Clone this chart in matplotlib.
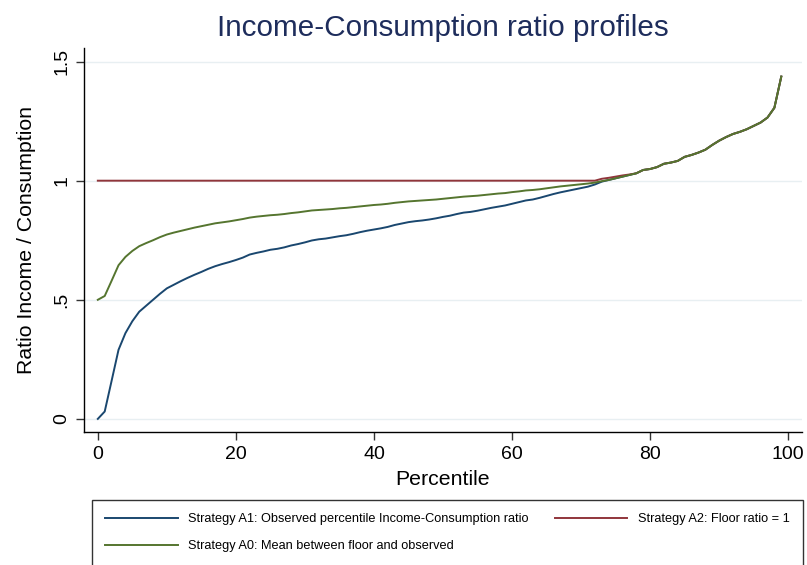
import matplotlib
matplotlib.use("Agg")
import matplotlib.pyplot as plt

plt.rcParams['font.family'] = ['Liberation Sans', 'DejaVu Sans']

# percentiles 0..99
percentile = list(range(100))

# Strategy A1: observed percentile income-consumption ratio
ratio_a1 = [0.000, 0.031, 0.160, 0.290, 0.360, 0.410, 0.450, 0.475, 0.500, 0.525,
            0.548, 0.563, 0.578, 0.592, 0.605, 0.617, 0.630, 0.641, 0.650, 0.658,
            0.667, 0.677, 0.690, 0.697, 0.703, 0.710, 0.714, 0.720, 0.728, 0.734,
            0.741, 0.749, 0.754, 0.757, 0.762, 0.767, 0.771, 0.777, 0.784, 0.790,
            0.795, 0.800, 0.806, 0.814, 0.820, 0.826, 0.830, 0.833, 0.837, 0.842,
            0.848, 0.853, 0.860, 0.866, 0.869, 0.874, 0.880, 0.886, 0.891, 0.896,
            0.903, 0.910, 0.917, 0.921, 0.928, 0.936, 0.944, 0.951, 0.957, 0.963,
            0.969, 0.975, 0.984, 0.996, 1.003, 1.010, 1.017, 1.024, 1.031, 1.045,
            1.049, 1.057, 1.071, 1.076, 1.083, 1.100, 1.108, 1.118, 1.130, 1.150,
            1.168, 1.183, 1.196, 1.205, 1.216, 1.230, 1.244, 1.265, 1.306, 1.437]

# Strategy A2: floor ratio = 1
ratio_a2 = [1.000] * 73 + [
            1.008, 1.012, 1.017, 1.022, 1.026, 1.031, 1.045,
            1.049, 1.057, 1.071, 1.076, 1.083, 1.100, 1.108, 1.118, 1.130, 1.150,
            1.168, 1.183, 1.196, 1.205, 1.216, 1.230, 1.244, 1.265, 1.306, 1.437]

# Strategy A0: mean between floor and observed
ratio_a0 = [0.500, 0.516, 0.580, 0.645, 0.680, 0.705, 0.725, 0.738, 0.750, 0.763,
            0.774, 0.782, 0.789, 0.796, 0.803, 0.809, 0.815, 0.821, 0.825, 0.829,
            0.834, 0.839, 0.845, 0.849, 0.852, 0.855, 0.857, 0.860, 0.864, 0.867,
            0.871, 0.875, 0.877, 0.879, 0.881, 0.884, 0.886, 0.889, 0.892, 0.895,
            0.898, 0.900, 0.903, 0.907, 0.910, 0.913, 0.915, 0.917, 0.919, 0.921,
            0.924, 0.927, 0.930, 0.933, 0.935, 0.937, 0.940, 0.943, 0.946, 0.948,
            0.952, 0.955, 0.959, 0.961, 0.964, 0.968, 0.972, 0.976, 0.979, 0.982,
            0.985, 0.988, 0.992, 0.998, 1.003, 1.010, 1.017, 1.024, 1.031, 1.045,
            1.049, 1.057, 1.071, 1.076, 1.083, 1.100, 1.108, 1.118, 1.130, 1.150,
            1.168, 1.183, 1.196, 1.205, 1.216, 1.230, 1.244, 1.265, 1.306, 1.437]

yticks = [0, 0.5, 1, 1.5]
ytick_labels = ['0', '.5', '1', '1.5']
xticks = [0, 20, 40, 60, 80, 100]

fig = plt.figure(figsize=(8.07, 5.65), dpi=100)
ax = fig.add_axes([84 / 807, 1 - 432 / 565, (802 - 84) / 807, (432 - 48) / 565])

l1, = ax.plot(percentile, ratio_a1, color='#1a476f', lw=1.4)
l2, = ax.plot(percentile, ratio_a2, color='#90353b', lw=1.4)
l0, = ax.plot(percentile, ratio_a0, color='#55752f', lw=1.4)

ax.set_xlim(-2, 102)
ax.set_ylim(-0.055, 1.557)
ax.set_yticks(yticks)
ax.set_yticklabels(ytick_labels, rotation=90, va='center')
ax.set_xticks(xticks)
ax.tick_params(labelsize=14, length=5.5, width=1, color='#333333', pad=4.5)
ax.grid(axis='y', color='#e8eff2', lw=1)
ax.set_axisbelow(True)
for s in ['top', 'right']:
    ax.spines[s].set_visible(False)
for s in ['left', 'bottom']:
    ax.spines[s].set_linewidth(1)

ax.set_xlabel('Percentile', fontsize=15.3, labelpad=5)
ax.set_ylabel('Ratio Income / Consumption', fontsize=15.3, labelpad=12)
fig.text(443 / 807, 1 - 28 / 565, 'Income-Consumption ratio profiles',
         ha='center', va='center', fontsize=21.3, color='#1e2d5c')

leg = fig.legend([l1, l0, l2],
                 ['Strategy A1: Observed percentile Income-Consumption ratio',
                  'Strategy A0: Mean between floor and observed',
                  'Strategy A2: Floor ratio = 1'],
                 ncol=2, loc='upper left', bbox_to_anchor=(92 / 807, 1 - 500 / 565),
                 fontsize=9.2, frameon=True, fancybox=False, handlelength=5.7,
                 handletextpad=0.8, columnspacing=2.0, labelspacing=1.15,
                 borderpad=1.05, borderaxespad=0)
leg.get_frame().set_edgecolor('black')
leg.get_frame().set_linewidth(1)

fig.savefig('out.png', dpi=100)
